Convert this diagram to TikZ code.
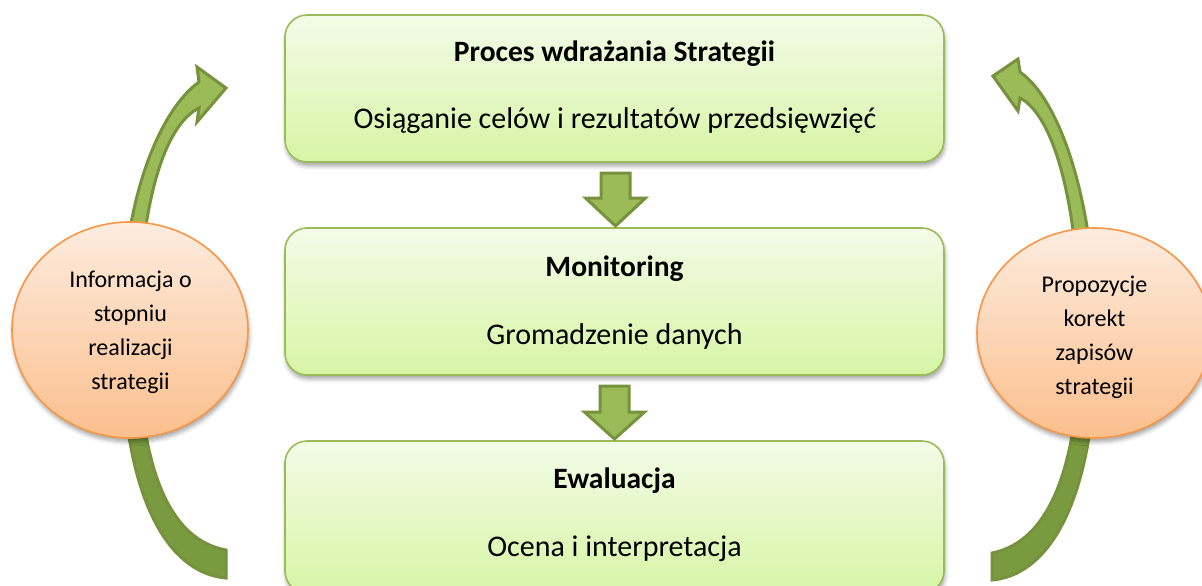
\documentclass[tikz,border=0pt]{standalone}
\usepackage{fontspec}
\setmainfont{Carlito}
\usetikzlibrary{calc,shadows.blur,shapes.geometric}
\definecolor{boxtop}{HTML}{F3FBE8}
\definecolor{boxbot}{HTML}{D7F5A5}
\definecolor{boxline}{HTML}{9BBB59}
\definecolor{circtop}{HTML}{FDECDF}
\definecolor{circbot}{HTML}{FBBF8D}
\definecolor{circline}{HTML}{F79646}
\definecolor{arrlight}{HTML}{9BBB59}
\definecolor{arrdark}{HTML}{76923C}
\definecolor{arrlow}{HTML}{7A9A40}
\pgfdeclareverticalshading{arrshade}{100bp}{color(0bp)=(arrlow); color(48bp)=(arrlow); color(56bp)=(arrlight); color(100bp)=(arrlight)}
\tikzset{
  stagebox/.style={draw=boxline, line width=1.6pt, rounded corners=22pt,
    top color=boxtop, bottom color=boxbot, minimum width=659pt,
    blur shadow={shadow xshift=1pt, shadow yshift=-4pt, shadow blur radius=4pt, shadow opacity=35}},
  infocirc/.style={ellipse, draw=circline, line width=1.6pt,
    top color=circtop, bottom color=circbot,
    blur shadow={shadow xshift=1pt, shadow yshift=-4pt, shadow blur radius=4pt, shadow opacity=35}},
  titletext/.style={font=\fontsize{29.5}{35}\selectfont\bfseries, anchor=base, inner sep=0pt},
  bodytext/.style={font=\fontsize{30}{36}\selectfont, anchor=base, inner sep=0pt},
  circtext/.style={font=\fontsize{24}{34}\selectfont, align=center, anchor=base, inner sep=0pt},
  downarr/.style={draw=arrdark, fill=arrlight, line width=3pt, line join=miter},
  curvearr/.style={draw=arrdark, shading=arrshade, line width=3pt, line join=miter}
}
\begin{document}
\begin{tikzpicture}[x=1pt, y=-1pt]
\useasboundingbox (0,0) rectangle (1202,586);
% curved arrows
\path[curvearr] (226,578) .. controls (160,572) and (120,480) .. (122,330)
  .. controls (121,200) and (160,110) .. (199,82)
  -- (197,67) -- (226,88) -- (197,122) -- (199,108)
  .. controls (165,125) and (140,200) .. (138,330)
  .. controls (138,470) and (170,540) .. (226,550) -- cycle;
\path[curvearr] (992,580) .. controls (1058,574) and (1098,480) .. (1096,330)
  .. controls (1094,200) and (1060,100) .. (1020,72)
  -- (1018,59) -- (993,76) -- (1018,111) -- (1020,98)
  .. controls (1053,115) and (1078,200) .. (1080,330)
  .. controls (1080,470) and (1048,542) .. (992,553) -- cycle;
% circles
\node[infocirc, minimum width=236pt, minimum height=216pt] (cl) at (130,330) {};
\node[infocirc, minimum width=234pt, minimum height=210pt] (cr) at (1094,333) {};
\node[circtext] (cltext) at (130.5,389) {Informacja o\\stopniu\\realizacji\\strategii};
\node[circtext] (crtext) at (1094.5,394) {Propozycje\\korekt\\zapisów\\strategii};
% boxes
\node[stagebox, minimum height=147pt] (box1) at (614.5,88.5) {};
\node[stagebox, minimum height=147pt] (box2) at (614.5,301.5) {};
\node[stagebox, minimum height=152pt] (box3) at (614.5,517) {};
\node[titletext] (t1) at (614.5,62) {Proces wdrażania Strategii};
\node[bodytext] (b1) at (615,128) {Osiąganie celów i rezultatów przedsięwzięć};
\node[titletext] (t2) at (614.5,276) {Monitoring};
\node[bodytext] (b2) at (614.5,344) {Gromadzenie danych};
\node[titletext] (t3) at (614.5,488) {Ewaluacja};
\node[bodytext] (b3) at (614.5,556) {Ocena i interpretacja};
% down arrows
\coordinate (m1) at ($(box1.south)!0.5!(box2.north)+(1,0)$);
\coordinate (m2) at ($(box2.south)!0.5!(box3.north)+(0,0)$);
\draw[downarr] ($(m1)+(-14.5,-22)$) -- ++(29,0) -- ++(0,25) -- ++(15.5,0) -- ($(m1)+(0,31)$) -- ($(m1)+(-30,3)$) -- ++(15.5,0) -- cycle;
\draw[downarr] ($(m2)+(-14.5,-22)$) -- ++(29,0) -- ++(0,26) -- ++(15.5,0) -- ($(m2)+(0,31)$) -- ($(m2)+(-30,4)$) -- ++(15.5,0) -- cycle;
\end{tikzpicture}
\end{document}
